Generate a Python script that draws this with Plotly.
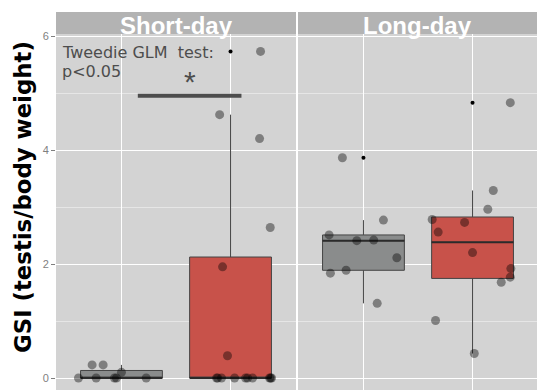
import numpy as np
import plotly.graph_objects as go

# GSI values per photoperiod and group (ctrl = grey, trt = red)
facets = ["Short-day", "Long-day"]
sd_ctrl = [0, 0.23, 0.23, 0, 0, 0, 0.10, 0]
sd_trt = [5.73, 4.62, 4.20, 2.64, 1.95, 0.39, 0, 0, 0, 0, 0, 0, 0, 0, 0, 0]
ld_ctrl = [3.865, 2.77, 2.51, 2.41, 2.42, 2.11, 1.84, 1.89, 1.31]
ld_trt = [4.83, 3.29, 2.96, 2.78, 2.73, 2.56, 2.20, 1.92, 1.77, 1.68, 1.01, 0.43]

# horizontal jitter of each point (in category units)
sd_ctrl_jit = [-0.394, -0.269, -0.168, -0.232, -0.064, -0.046, 0.0, 0.227]
sd_trt_jit = [0.275, -0.10, 0.266, 0.364, -0.073, -0.028,
              -0.128, -0.118, -0.083, 0.037, 0.138, 0.156, 0.202, 0.358, 0.367, 0.376]
ld_ctrl_jit = [-0.193, 0.183, -0.315, -0.061, 0.094, 0.306, -0.303, -0.159, 0.126]
ld_trt_jit = [0.346, 0.19, 0.14, -0.37, -0.073, -0.315, 0.0, 0.351, 0.346, 0.263, -0.339, 0.016]

y_ticks = [0, 2, 4, 6]
test_lines = ["Tweedie GLM&nbsp; test:", "p&lt;0.05"]
sig_bar_x = [1.15, 2.10]
sig_bar_y = 4.95

GREY = "#8A8C8C"
RED = "#C8524A"
PANEL = "#D3D3D3"
STRIP = "#B3B3B3"

W, H = 537, 390
ML, MT = 56, 34
plot_w, plot_h = W - ML, H - MT
px_w = 240
dom1 = [0, px_w / plot_w]
dom2 = [(px_w + 2) / plot_w, 1.0]
y_range = [-0.21, 6.035]
BOX_W = 0.75


def box_stats(vals):
    v = np.asarray(vals, dtype=float)
    q1, med, q3 = np.percentile(v, [25, 50, 75])
    iqr = q3 - q1
    lo_lim, hi_lim = q1 - 1.5 * iqr, q3 + 1.5 * iqr
    inside = v[(v >= lo_lim) & (v <= hi_lim)]
    outl = v[(v < lo_lim) | (v > hi_lim)]
    return q1, med, q3, inside.min(), inside.max(), outl


fig = go.Figure()

groups = [
    ("x", "y", 1, sd_ctrl, sd_ctrl_jit, GREY),
    ("x", "y", 2, sd_trt, sd_trt_jit, RED),
    ("x2", "y2", 1, ld_ctrl, ld_ctrl_jit, GREY),
    ("x2", "y2", 2, ld_trt, ld_trt_jit, RED),
]

for xa, ya, pos, vals, jit, col in groups:
    q1, med, q3, lo, hi, outl = box_stats(vals)
    fig.add_trace(go.Box(
        x=[pos], q1=[q1], median=[med], q3=[q3], lowerfence=[lo], upperfence=[hi],
        width=BOX_W, whiskerwidth=0, fillcolor=col,
        line=dict(color="#444444", width=1), boxpoints=False,
        xaxis=xa, yaxis=ya, showlegend=False, hoverinfo="skip",
    ))
    # heavier median line
    fig.add_trace(go.Scatter(
        x=[pos - BOX_W / 2, pos + BOX_W / 2], y=[med, med], mode="lines",
        line=dict(color="#2B2B2B", width=2), xaxis=xa, yaxis=ya,
        showlegend=False, hoverinfo="skip",
    ))
    if len(outl):
        fig.add_trace(go.Scatter(
            x=[pos] * len(outl), y=list(outl), mode="markers",
            marker=dict(color="black", size=4), xaxis=xa, yaxis=ya,
            showlegend=False, hoverinfo="skip",
        ))

for xa, ya, pos, vals, jit, col in groups:
    fig.add_trace(go.Scatter(
        x=[pos + j for j in jit], y=vals, mode="markers",
        marker=dict(color="rgba(0,0,0,0.40)", size=9, line=dict(width=0)),
        xaxis=xa, yaxis=ya, showlegend=False, hoverinfo="skip",
    ))

# significance bar
fig.add_trace(go.Scatter(
    x=sig_bar_x, y=[sig_bar_y, sig_bar_y], mode="lines",
    line=dict(color="#4D4D4D", width=4), xaxis="x", yaxis="y",
    showlegend=False, hoverinfo="skip",
))

axis_x = dict(range=[0.4, 2.6], tickvals=[1, 2], showticklabels=False, ticks="",
              showgrid=True, gridcolor="white", gridwidth=1.2, zeroline=False,
              showline=False, fixedrange=True)
axis_y = dict(range=y_range, tickvals=y_ticks, showgrid=True, gridcolor="white",
              gridwidth=1.2, zeroline=False, showline=False,
              minor=dict(dtick=1, showgrid=True, gridcolor="#E6E6E6", gridwidth=0.6))

fig.update_layout(
    width=W, height=H,
    margin=dict(l=ML, r=0, t=MT, b=0),
    paper_bgcolor="white", plot_bgcolor=PANEL,
    xaxis=dict(domain=dom1, anchor="y", **axis_x),
    xaxis2=dict(domain=dom2, anchor="y2", **{**axis_x, "range": [0.4, 0.4 + 2.2 * (dom2[1] - dom2[0]) / (dom1[1] - dom1[0])]}),
    yaxis=dict(anchor="x", ticks="outside", ticklen=4, tickcolor="#7F7F7F",
               tickfont=dict(family="Liberation Sans", size=11, color="#7F7F7F"),
               **axis_y),
    yaxis2=dict(anchor="x2", showticklabels=False, ticks="", **axis_y),
)

# facet strips
strip_top = 1 + 22 / plot_h
for dom, name in zip([dom1, dom2], facets):
    fig.add_shape(type="rect", xref="paper", yref="paper",
                  x0=dom[0], x1=dom[1], y0=1.0, y1=strip_top,
                  fillcolor=STRIP, line=dict(width=0), layer="below")
    fig.add_annotation(xref="paper", yref="paper", x=(dom[0] + dom[1]) / 2,
                       y=1 + (34 - 25) / plot_h, text=f"<b>{name}</b>", showarrow=False,
                       xanchor="center", yanchor="middle",
                       font=dict(family="Liberation Sans", size=24, color="white"))

# y title
fig.add_annotation(xref="paper", yref="paper", x=(23 - ML) / plot_w,
                   y=1 - (197 - MT) / plot_h, text="<b>GSI (testis/body weight)</b>",
                   textangle=-90, showarrow=False, xanchor="center", yanchor="middle",
                   font=dict(family="DejaVu Sans", size=22.8, color="black"))

# test annotation (one annotation per line, tight spacing) and star
for line, yv in zip(test_lines, [5.705, 5.372]):
    fig.add_annotation(xref="x", yref="y", x=0.45, y=yv, text=line,
                       showarrow=False, xanchor="left", yanchor="middle", align="left",
                       borderpad=0,
                       font=dict(family="DejaVu Sans", size=16, color="#4D4D4D"))
fig.add_annotation(xref="x", yref="y", x=1.63, y=5.21, text="*",
                   showarrow=False, xanchor="center", yanchor="middle",
                   font=dict(family="Liberation Sans", size=30, color="#4D4D4D"))

fig.write_html("out.html")
